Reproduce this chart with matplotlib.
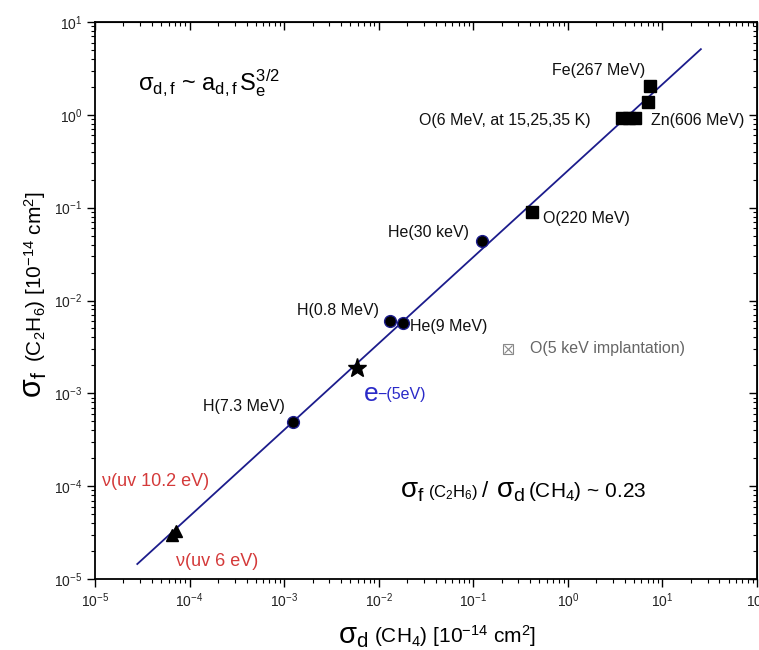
import matplotlib.pyplot as plt
from matplotlib.ticker import LogLocator, NullFormatter

plt.rcParams['font.family'] = ['Liberation Sans', 'DejaVu Sans']
plt.rcParams['mathtext.fontset'] = 'custom'
plt.rcParams['mathtext.rm'] = 'Liberation Sans'
plt.rcParams['mathtext.it'] = 'Liberation Sans:italic'
plt.rcParams['mathtext.sf'] = 'Liberation Sans'

# heavy ions (squares)
ion_x = [3.7, 4.4, 5.1, 0.42, 7.0, 7.4]
ion_y = [0.93, 0.93, 0.93, 0.09, 1.37, 2.05]

# light ions (circles): He(30 keV), H(0.8 MeV), He(9 MeV), H(7.3 MeV)
light_x = [0.123, 0.0131, 0.018, 0.00124]
light_y = [0.0436, 0.0060, 0.0057, 0.00049]

# electrons 5 eV (star)
elec_x = [0.0059]
elec_y = [0.00187]

# UV photons 6 eV and 10.2 eV (triangles)
uv_x = [6.5e-5, 7.2e-5]
uv_y = [3.0e-5, 3.3e-5]

# O 5 keV implantation (open crossed box)
impl_x = [0.232]
impl_y = [0.003]

# fitted line
fit_x = [2.8e-5, 25.5]
fit_y = [1.45e-5, 5.1]

W, H = 759, 650
fig = plt.figure(figsize=(W / 100, H / 100), dpi=100)
ax = fig.add_axes([95 / W, 1 - 579 / H, (757 - 95) / W, (579 - 22) / H])

def px(x, y):
    return x / W, 1 - y / H

ax.set_xscale('log')
ax.set_yscale('log')
ax.set_xlim(1e-5, 1e2)
ax.set_ylim(1e-5, 1e1)

navy = '#1c1c8c'
ax.plot(fit_x, fit_y, color=navy, lw=1.3, zorder=2)
ax.plot(ion_x, ion_y, 's', color='black', ms=8, zorder=3)
ax.plot(light_x, light_y, 'o', color='black', mec=navy, ms=8.5, zorder=3)
ax.plot(elec_x, elec_y, '*', color='black', ms=14, zorder=3)
ax.plot(uv_x, uv_y, '^', color='black', ms=9, zorder=3)
ax.plot(impl_x, impl_y, 's', mfc='none', mec='#888888', ms=7, mew=0.8, zorder=3)
ax.plot(impl_x, impl_y, 'x', color='#888888', ms=6, mew=0.8, zorder=3)

for axis in (ax.xaxis, ax.yaxis):
    axis.set_major_locator(LogLocator(base=10, numticks=20))
    axis.set_minor_locator(LogLocator(base=10, subs=range(2, 10), numticks=20))
    axis.set_minor_formatter(NullFormatter())
ax.tick_params(which='major', direction='out', length=6, width=1, labelsize=10,
               pad=3, labelcolor='#222222')
ax.tick_params(which='minor', direction='out', length=3, width=0.8)
for sp in ax.spines.values():
    sp.set_linewidth(1.3)

# mirrored ticks pointing inward
top = ax.secondary_xaxis('top')
right = ax.secondary_yaxis('right')
for sec, axis in ((top, top.xaxis), (right, right.yaxis)):
    axis.set_major_locator(LogLocator(base=10, numticks=20))
    axis.set_minor_locator(LogLocator(base=10, subs=range(2, 10), numticks=20))
    axis.set_major_formatter(NullFormatter())
    axis.set_minor_formatter(NullFormatter())
    sec.tick_params(which='major', direction='in', length=6, width=1)
    sec.tick_params(which='minor', direction='in', length=3, width=0.8)

# point labels
lab = dict(fontsize=11.5, ha='left', va='center', color='#111111')
fig.text(*px(552, 70), 'Fe(267 MeV)', **lab)
fig.text(*px(419, 120), 'O(6 MeV, at 15,25,35 K)', **lab)
fig.text(*px(651, 120), 'Zn(606 MeV)', **lab)
fig.text(*px(543, 219), 'O(220 MeV)', **lab)
fig.text(*px(388, 233), 'He(30 keV)', **lab)
fig.text(*px(297, 310), 'H(0.8 MeV)', **lab)
fig.text(*px(410, 327), 'He(9 MeV)', **lab)
fig.text(*px(203, 406), 'H(7.3 MeV)', **lab)
fig.text(*px(530, 349), 'O(5 keV implantation)', fontsize=11.5, ha='left', va='center', color='#666666')

blue = '#2a2ac8'
fig.text(*px(364, 394), 'e', fontsize=19, ha='left', va='center', color=blue)
fig.text(*px(377, 394), '\u2212(5eV)', fontsize=11.5, ha='left', va='center', color=blue)

red = '#d43a3a'
fig.text(*px(102, 481), '\u03bd(uv 10.2 eV)', fontsize=13, ha='left', va='center', color=red)
fig.text(*px(176, 561), '\u03bd(uv 6 eV)', fontsize=13, ha='left', va='center', color=red)

fig.text(*px(138, 90), r'$\mathrm{\sigma_{d,f}}$ ~ $\mathrm{a_{d,f}\,S_e^{3/2}}$',
         fontsize=17, ha='left', va='baseline')
fig.text(*px(400, 497), r'$\mathrm{\sigma_{f}}$', fontsize=20, ha='left', va='baseline')
fig.text(*px(428, 497), r'$\mathrm{(C_2H_6)}$', fontsize=12, ha='left', va='baseline')
fig.text(*px(482, 497), r'/', fontsize=16, ha='left', va='baseline')
fig.text(*px(496, 497), r'$\mathrm{\sigma_{d}}$', fontsize=20, ha='left', va='baseline')
fig.text(*px(528, 497), r'$\mathrm{(CH_4)}$ ~ 0.23', fontsize=15, ha='left', va='baseline')

# axis titles, sigma drawn larger than the rest
fig.text(*px(42, 398), r'$\mathrm{\sigma_{f}}$', fontsize=22, rotation=90,
         rotation_mode='anchor', ha='left', va='baseline')
fig.text(*px(42, 362), r'$\mathrm{(C_2H_6)\ [10^{-14}\ cm^2]}$', fontsize=15, rotation=90,
         rotation_mode='anchor', ha='left', va='baseline')
fig.text(*px(338, 643), r'$\mathrm{\sigma_{d}}$', fontsize=21, ha='left', va='baseline')
fig.text(*px(374, 643), r'$\mathrm{(CH_4)\ [10^{-14}\ cm^2]}$', fontsize=15, ha='left', va='baseline')

fig.savefig('out.png', dpi=100)
